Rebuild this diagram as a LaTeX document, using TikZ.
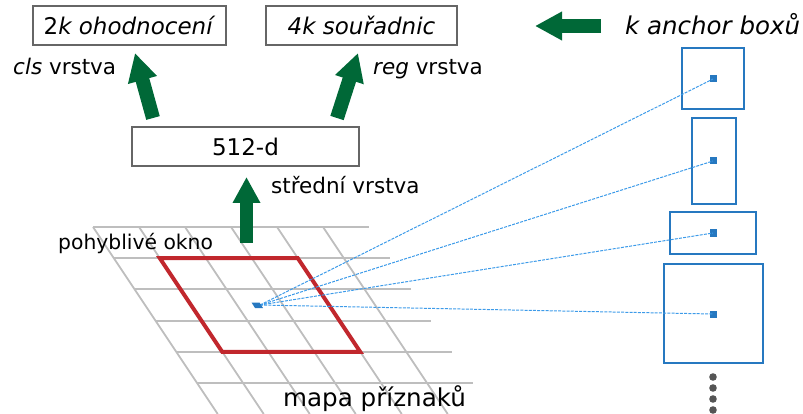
\documentclass[tikz,border=0pt]{standalone}
\usepackage{fontspec}
\setmainfont{DejaVu Sans}
\usetikzlibrary{positioning, arrows.meta}
\definecolor{zelena}{RGB}{0,104,55}
\definecolor{cervena}{RGB}{193,39,45}
\definecolor{modra}{RGB}{38,120,192}
\definecolor{svetlemodra}{RGB}{61,155,233}
\definecolor{mrizka}{RGB}{190,190,190}
\definecolor{tecky}{RGB}{85,85,85}
\tikzset{
  vrstva/.style={draw=black!60, line width=1.5pt, minimum height=39pt, inner sep=0pt,
    font=\fontsize{23}{27}\selectfont},
  popis/.style={anchor=base west, inner sep=0pt},
  sipka/.style={zelena, line width=14pt, -{Triangle[width=28pt,length=28pt]}},
  kotva/.style={draw=modra, line width=1.6pt, inner sep=0pt},
  bod/.style={fill=modra, minimum size=7pt, inner sep=0pt},
  paprsek/.style={svetlemodra, line width=1pt, dash pattern=on 3pt off 1.2pt},
}

\begin{document}
\begin{tikzpicture}[x=1pt,y=-1pt]
            \useasboundingbox (0,0) rectangle (803,414);

            \begin{scope}
                \foreach \i in {0,...,5}
                    \draw[mrizka, line width=2pt] ({93+20.8*\i},{227+31.2*\i}) -- ++(276,0);
                \foreach \j in {0,...,5}
                    \draw[mrizka, line width=1.8pt] ({93+46*\j},227) -- ++(124.7,187);
                \draw[cervena, line width=4pt] (159.8,258.2) -- (297.8,258.2) -- (360.2,351.8) -- (222.2,351.8) -- cycle;
            \end{scope}

            \node[vrstva, minimum width=193pt] (skore) at (129.5,25.5) {2\textit{k ohodnocení}};
            \node[vrstva, minimum width=191pt] (souradnice) at (361.5,25.5) {\textit{4k souřadnic}};
            \node[vrstva, minimum width=227pt] (stredni) at (245.5,146.5) {512-d};

            \node[popis, font=\fontsize{21.5}{26}\selectfont] (cls) at (13,75) {\textit{cls} vrstva};
            \node[popis, font=\fontsize{21.5}{26}\selectfont] (reg) at (373,75) {\textit{reg} vrstva};
            \node[popis, font=\fontsize{21.5}{26}\selectfont] (mezi) at (271,194) {střední vrstva};
            \node[popis, font=\fontsize{20.3}{24}\selectfont] (okno) at (58,250) {pohyblivé okno};
            \node[popis, font=\fontsize{24.6}{29}\selectfont] (mapa) at (283,406) {mapa příznaků};
            \node[popis, font=\fontsize{24.5}{29}\selectfont] (kotvy) at (625,35) {\textit{k anchor boxů}};

            \coordinate (clsA) at (153,118);
            \coordinate (clsB) at (135,53);
            \coordinate (regA) at (337,118);
            \coordinate (regB) at (358,53);
            \coordinate (oknoA) at (246.5,243);
            \coordinate (oknoB) at (246.5,177);
            \coordinate (kotvyA) at (601,26);
            \coordinate (kotvyB) at (535,26);
            \draw[sipka] (clsA) -- (clsB);
            \draw[sipka] (regA) -- (regB);
            \draw[sipka, line width=13pt, -{Triangle[width=26pt,length=26pt]}] (oknoA) -- (oknoB);
            \draw[sipka, -{Triangle[width=27pt,length=27pt]}] (kotvyA) -- (kotvyB);

            \node[kotva, minimum width=62pt, minimum height=61pt] (k1) at (713,78.5) {};
            \node[kotva, minimum width=44pt, minimum height=86pt] (k2) at (714,161) {};
            \node[kotva, minimum width=86pt, minimum height=42pt] (k3) at (713,233) {};
            \node[kotva, minimum width=99pt, minimum height=99pt] (k4) at (713.5,313.5) {};

            \node[bod] (b1) at (713,79) {};
            \node[bod] (b2) at (713,161) {};
            \node[bod] (b3) at (713,233) {};
            \node[bod] (b4) at (713,314) {};

            \coordinate (stred) at (260,305);
            \foreach \b in {b1,b2,b3,b4}
                \draw[paprsek] (stred) -- (\b.center);
            \fill[modra] (251.5,302.5) -- (259.5,302.5) -- (263,308) -- (255,308) -- cycle;

            \foreach \y in {377,388,399,410}
                \fill[tecky] (713,\y) circle (3.8pt);

        \end{tikzpicture}
\end{document}
